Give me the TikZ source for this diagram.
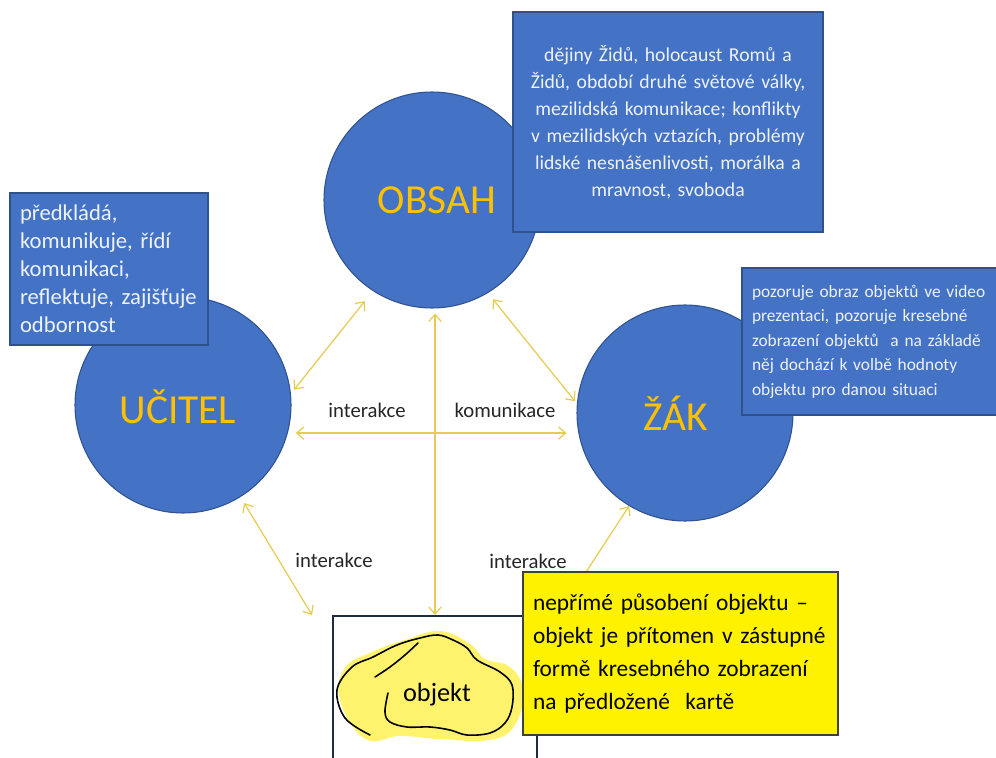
\documentclass[tikz,border=0pt]{standalone}
\usepackage{fontspec}
\setmainfont{Carlito}
\usetikzlibrary{arrows.meta}

\definecolor{circblue}{HTML}{4472C4}
\definecolor{edgeblue}{HTML}{2F528F}
\definecolor{gold}{HTML}{FFC000}
\definecolor{arrowyel}{HTML}{E6CC55}
\definecolor{blobyel}{HTML}{FFF36E}
\definecolor{framenavy}{HTML}{1F2A44}
\definecolor{boxtext}{HTML}{EEF2FA}

\begin{document}
\begin{tikzpicture}[
    circ/.style={circle,fill=circblue,draw=edgeblue,line width=0.6pt,minimum size=4.32cm,inner sep=0pt},
    circtxt/.style={text=gold,font=\fontsize{23.5}{28}\selectfont},
    info/.style={rectangle,fill=circblue,draw=edgeblue,line width=0.6pt,text=boxtext,inner ysep=0pt,inner xsep=0.2cm},
    arr/.style={{Straight Barb[length=4pt,width=7pt]}-{Straight Barb[length=4pt,width=7pt]},line width=0.7pt,draw=arrowyel},
    lbl/.style={font=\fontsize{11.8}{14}\selectfont,text=black!85}
  ]
    \path[use as bounding box,fill=white] (0,0) rectangle (19.92,-15.16);

    % the three circles
    \node[circ] (obsah) at (8.64,-4.00) {};
    \node[circ] (ucitel) at (3.66,-8.10) {};
    \node[circ] (zak) at (13.70,-8.26) {};
    \node[circtxt] (obsahtxt) at (8.74,-4.00) {OBSAH};
    \node[circtxt] (ucitxt) at (3.56,-8.14) {UČITEL};
    \node[circtxt] (zaktxt) at (13.52,-8.26) {ŽÁK};

    % text boxes
    \node[info,minimum width=3.96cm,minimum height=3.04cm,text width=3.56cm,align=left,
      font=\fontsize{12.9}{15.9}\selectfont] (ucitelbox) at (2.18,-5.38)
      {předkládá,\\komunikuje, řídí\\komunikaci,\\reflektuje, zajišťuje\\odbornost};
    \node[info,minimum width=6.2cm,minimum height=4.4cm,text width=5.8cm,align=center,
      font=\fontsize{11.2}{15.3}\selectfont] (obsahbox) at (13.36,-2.44)
      {dějiny Židů, holocaust Romů a\\Židů, období druhé světové války,\\mezilidská komunikace; konflikty\\v mezilidských vztazích, problémy\\lidské nesnášenlivosti, morálka a\\mravnost, svoboda};
    \node[info,minimum width=5.4cm,minimum height=2.94cm,text width=5.0cm,align=left,
      font=\fontsize{9.9}{13.9}\selectfont] (zakbox) at (17.54,-6.83)
      {pozoruje obraz objektů ve video\\prezentaci, pozoruje kresebné\\zobrazení objektů~ a na základě\\něj dochází k volbě hodnoty\\objektu pro danou situaci};

    % frame with the object
    \node[draw=framenavy,line width=1.1pt,minimum width=4.08cm,minimum height=4cm,anchor=north] (frame) at (8.70,-12.30) {};
    \fill[blobyel] plot[smooth cycle,tension=0.7] coordinates {(6.80,-14.00) (6.90,-13.36) (7.44,-13.04) (8.10,-12.80) (8.80,-12.62) (9.40,-12.88) (9.70,-13.18) (10.20,-13.34) (10.46,-13.80) (10.30,-14.50) (9.80,-14.80) (8.80,-14.78) (8.00,-14.72) (7.30,-14.78)};
    \draw[line width=0.9pt,line cap=round] plot[smooth,tension=0.6] coordinates {(7.40,-14.70) (6.90,-14.36) (6.74,-13.80) (7.04,-13.34) (7.46,-13.14) (7.94,-12.90) (8.40,-12.76) (8.76,-12.70) (9.06,-12.80) (9.34,-12.96) (9.54,-13.20) (10.00,-13.44) (10.24,-13.70) (10.24,-14.14) (10.10,-14.46) (9.80,-14.66) (9.34,-14.70) (9.00,-14.60) (8.60,-14.54) (8.14,-14.54) (7.80,-14.44) (7.70,-14.24) (7.76,-13.86)};
    \draw[line width=0.9pt,line cap=round] plot[smooth,tension=0.6] coordinates {(7.50,-13.54) (7.80,-13.34) (8.10,-13.10) (8.36,-12.86)};
    \node[font=\fontsize{15}{18}\selectfont] (objtxt) at (8.74,-13.90) {objekt};

    % connectors
    \draw[arr,shorten <=0.1cm,shorten >=0.26cm] (ucitel.6.6) -- (obsah.237.9);
    \draw[arr,shorten <=0.16cm,shorten >=0.06cm] (obsah.301.5) -- (zak.175.8);
    \draw[arr,shorten <=0.16cm,shorten >=0.24cm] (ucitel.-15.5) -- (ucitel.-15.5 -| zak.191.1);
    \draw[arr,shorten <=0.1cm] (frame.north |- obsah.south) -- (frame.north);
    \draw[arr,shorten <=0.14cm] (ucitel.-58.5) -- ([xshift=-0.4cm]frame.north west);
    \draw[arr] (zak.239.1) -- ([xshift=0.4cm]frame.north east);

    % yellow note
    \node[rectangle,fill=yellow,draw=black!75,line width=0.6pt,minimum width=6.3cm,minimum height=3.26cm,
      text width=5.9cm,inner xsep=0.2cm,inner ysep=0pt,align=left,font=\fontsize{13.3}{18.7}\selectfont] (note) at (13.61,-13.07)
      {nepřímé působení objektu --\\objekt je přítomen v zástupné\\formě kresebného zobrazení\\na předložené~ kartě};

    % labels
    \node[lbl] (lint1) at (7.34,-8.20) {interakce};
    \node[lbl] (lkom) at (10.10,-8.20) {komunikace};
    \node[lbl] (lint2) at (6.68,-11.20) {interakce};
    \node[lbl] (lint3) at (10.56,-11.22) {interakce};
  \end{tikzpicture}
\end{document}
